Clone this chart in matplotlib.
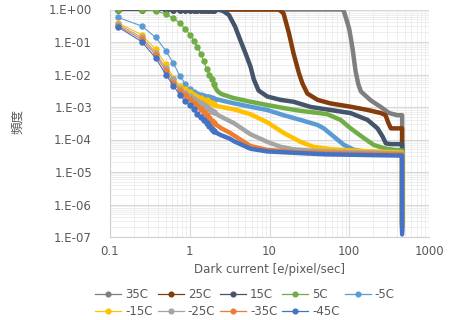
import matplotlib
matplotlib.use('Agg')
import matplotlib.pyplot as plt
from matplotlib.lines import Line2D
from matplotlib.ticker import LogLocator, FixedLocator, FixedFormatter, NullFormatter

# series labels and colours (Excel palette)
labels = ['35C', '25C', '15C', '5C', '-5C', '-15C', '-25C', '-35C', '-45C']
colors = ['#7F7F7F', '#843C0C', '#44546A', '#70AD47', '#5B9BD5',
          '#FFC000', '#A5A5A5', '#ED7D31', '#4472C4']

# low dark-current bins (individual markers visible)
x_low = [0.125, 0.25, 0.375, 0.5, 0.625, 0.75, 0.875, 1.0,
         1.125, 1.25, 1.375, 1.5, 1.625, 1.75, 1.875, 2.0]

y_low = {
    '35C':  [1] * 16,
    '25C':  [1] * 16,
    '15C':  [1] * 16,
    '5C':   [1, 1, 0.91, 0.72, 0.54, 0.38, 0.26, 0.17,
             0.11, 0.072, 0.043, 0.026, 0.015, 0.010, 0.0071, 0.0050],
    '-5C':  [0.575, 0.31, 0.138, 0.054, 0.022, 0.0091, 0.0052, 0.0035,
             0.0029, 0.0026, 0.0024, 0.00224, 0.0021, 0.0020, 0.0019, 0.0018],
    '-15C': [0.39, 0.166, 0.059, 0.0204, 0.0079, 0.0045, 0.0035, 0.0028,
             0.0024, 0.0021, 0.00186, 0.0017, 0.0016, 0.00145, 0.00135, 0.00123],
    '-25C': [0.355, 0.138, 0.047, 0.0155, 0.0071, 0.0037, 0.00275, 0.0022,
             0.0018, 0.0015, 0.0013, 0.00112, 0.0010, 0.00087, 0.00078, 0.00069],
    '-35C': [0.32, 0.12, 0.04, 0.0129, 0.0054, 0.0032, 0.0023, 0.00178,
             0.00135, 0.00107, 0.00087, 0.00069, 0.00055, 0.00046, 0.00038, 0.00032],
    '-45C': [0.295, 0.102, 0.032, 0.010, 0.0045, 0.0024, 0.0015, 0.00112,
             0.00085, 0.00063, 0.0005, 0.0004, 0.00032, 0.00026, 0.00021, 0.000178],
}

# higher dark current (points merge into a thick line), incl. saturation drop
x_high = {
    '35C':  [80, 85, 90, 100, 110, 120, 130, 140, 186, 249, 317, 400, 460, 460, 460],
    '25C':  [12.5, 13.5, 15, 17.5, 20, 23.4, 25.8, 29.8, 40, 58, 104, 170, 250,
             285, 310, 333, 460, 460, 460],
    '15C':  [2.2, 2.6, 3.1, 3.7, 4.3, 5.0, 5.8, 6.35, 7.3, 9.4, 13.7, 20, 33, 58,
             104, 170, 226, 262, 288, 333, 460, 460, 460],
    '5C':   [2.125, 2.25, 2.5, 3.5, 5.8, 9.4, 15, 24.5, 40, 53, 78, 104, 153, 203,
             272, 363, 460, 460, 460],
    '-5C':  [3.57, 5.77, 9.35, 15, 24.5, 40, 48, 64, 86, 115, 153, 250, 460, 460, 460],
    '-15C': [2.2, 3.57, 5.77, 9.35, 15, 24.5, 35, 60, 150, 460, 460, 460],
    '-25C': [2.4, 3.57, 5.77, 9.35, 13.7, 20, 40, 150, 460, 460, 460],
    '-35C': [2.5, 3.2, 4.3, 5.77, 9.35, 24.5, 100, 460, 460, 460],
    '-45C': [2.4, 3.2, 3.57, 5.77, 9.35, 24.5, 50, 200, 460, 460, 460],
}
y_high = {
    '35C':  [1, 0.93, 0.6, 0.25, 0.063, 0.0126, 0.005, 0.003, 0.0016, 0.001,
             6.5e-4, 5.6e-4, 5.6e-4, 1e-5, 3e-7],
    '25C':  [1, 0.95, 0.76, 0.19, 0.045, 0.011, 0.0054, 0.0026, 0.00166, 0.00129,
             0.00102, 8.1e-4, 6.5e-4, 5.6e-4, 3.2e-4, 2.2e-4, 2.2e-4, 1e-5, 2.5e-7],
    '15C':  [1, 0.91, 0.68, 0.3, 0.115, 0.045, 0.017, 0.0071, 0.0032, 0.0021,
             0.00166, 0.00145, 0.001, 8.1e-4, 6.5e-4, 4e-4, 2.2e-4, 1.23e-4,
             7.6e-5, 7.2e-5, 7.2e-5, 1e-5, 2e-7],
    '5C':   [3.7e-3, 3.0e-3, 2.5e-3, 1.9e-3, 1.45e-3, 1.15e-3, 9.3e-4, 7.6e-4,
             6.6e-4, 6.0e-4, 4.0e-4, 2.2e-4, 1.1e-4, 6.8e-5, 5.4e-5, 4.8e-5,
             4.6e-5, 1e-5, 2.2e-7],
    '-5C':  [1.3e-3, 1.02e-3, 8.1e-4, 5.6e-4, 4.0e-4, 2.8e-4, 2.2e-4, 1.23e-4,
             6.8e-5, 4.8e-5, 4.3e-5, 4.0e-5, 3.8e-5, 1e-5, 2e-7],
    '-15C': [1.07e-3, 8.5e-4, 6.0e-4, 3.4e-4, 1.6e-4, 8.5e-5, 6.0e-5, 5.0e-5,
             4.4e-5, 4.0e-5, 1e-5, 1.8e-7],
    '-25C': [5.2e-4, 3.2e-4, 1.45e-4, 8.5e-5, 6.0e-5, 5.0e-5, 4.4e-5, 4.0e-5,
             3.7e-5, 1e-5, 1.6e-7],
    '-35C': [2.2e-4, 1.6e-4, 1.0e-4, 6.3e-5, 4.8e-5, 4.0e-5, 3.7e-5, 3.5e-5,
             1e-5, 1.4e-7],
    '-45C': [1.4e-4, 1.05e-4, 8.9e-5, 5.2e-5, 4.3e-5, 3.8e-5, 3.5e-5, 3.3e-5,
             3.2e-5, 1e-5, 1.2e-7],
}

y_ticks = [1, 1e-1, 1e-2, 1e-3, 1e-4, 1e-5, 1e-6, 1e-7]
y_tick_labels = ['1.E+00', '1.E-01', '1.E-02', '1.E-03', '1.E-04',
                 '1.E-05', '1.E-06', '1.E-07']
x_ticks = [0.1, 1, 10, 100, 1000]
x_tick_labels = ['0.1', '1', '10', '100', '1000']

txt = '#595959'
fig = plt.figure(figsize=(4.53, 3.2), dpi=100)
ax = fig.add_axes([110 / 453, 1 - 237 / 320, 319 / 453, 227.5 / 320])

for i, name in enumerate(labels):
    z = 3 + i * 0.1
    ax.plot(x_low, y_low[name], color=colors[i], lw=0.8, marker='o', ms=3.6,
            mec=colors[i], zorder=z)
    ax.plot([x_low[-1]] + x_high[name], [y_low[name][-1]] + y_high[name],
            color=colors[i], lw=3.2, solid_capstyle='round',
            solid_joinstyle='round', zorder=z)

ax.set_xscale('log')
ax.set_yscale('log')
ax.set_xlim(0.1, 1000)
ax.set_ylim(1e-7, 1)

ax.xaxis.set_major_locator(FixedLocator(x_ticks))
ax.xaxis.set_major_formatter(FixedFormatter(x_tick_labels))
ax.yaxis.set_major_locator(FixedLocator(y_ticks))
ax.yaxis.set_major_formatter(FixedFormatter(y_tick_labels))
ax.xaxis.set_minor_locator(LogLocator(base=10, subs=range(2, 10), numticks=20))
ax.yaxis.set_minor_locator(LogLocator(base=10, subs=range(2, 10), numticks=20))
ax.xaxis.set_minor_formatter(NullFormatter())
ax.yaxis.set_minor_formatter(NullFormatter())

ax.grid(True, which='major', color='#D9D9D9', lw=0.8, zorder=0)
ax.grid(True, which='minor', color='#EBEBEB', lw=0.6, zorder=0)
ax.set_axisbelow(True)
for s in ['top', 'right']:
    ax.spines[s].set_visible(False)
for s in ['left', 'bottom']:
    ax.spines[s].set_color('#D0D0D0')
    ax.spines[s].set_linewidth(0.8)
ax.tick_params(which='both', length=0, colors=txt, labelsize=8.5)
ax.tick_params(axis='y', pad=13)
ax.tick_params(axis='x', pad=6)

ax.set_xlabel('Dark current [e/pixel/sec]', fontsize=8.5, color=txt, labelpad=3)
fig.text(18 / 453, 1 - 122 / 320, '頻度', rotation=90, ha='center', va='center',
         fontsize=9, color=txt, family=['Noto Sans CJK JP', 'DejaVu Sans'])

# legend laid out row by row like Excel
handles = [Line2D([0], [0], color=c, lw=0.9, marker='o', ms=3.4) for c in colors]
order = [0, 5, 1, 6, 2, 7, 3, 8, 4]
fig.legend([handles[k] for k in order], [labels[k] for k in order],
           loc='center', bbox_to_anchor=(245 / 453, 1 - 303 / 320), ncol=5,
           frameon=False, fontsize=8.5, handlelength=2.2, handletextpad=0.35,
           columnspacing=0.4, labelspacing=0.35, borderpad=0,
           labelcolor=txt)

fig.savefig('out.png', dpi=100)
